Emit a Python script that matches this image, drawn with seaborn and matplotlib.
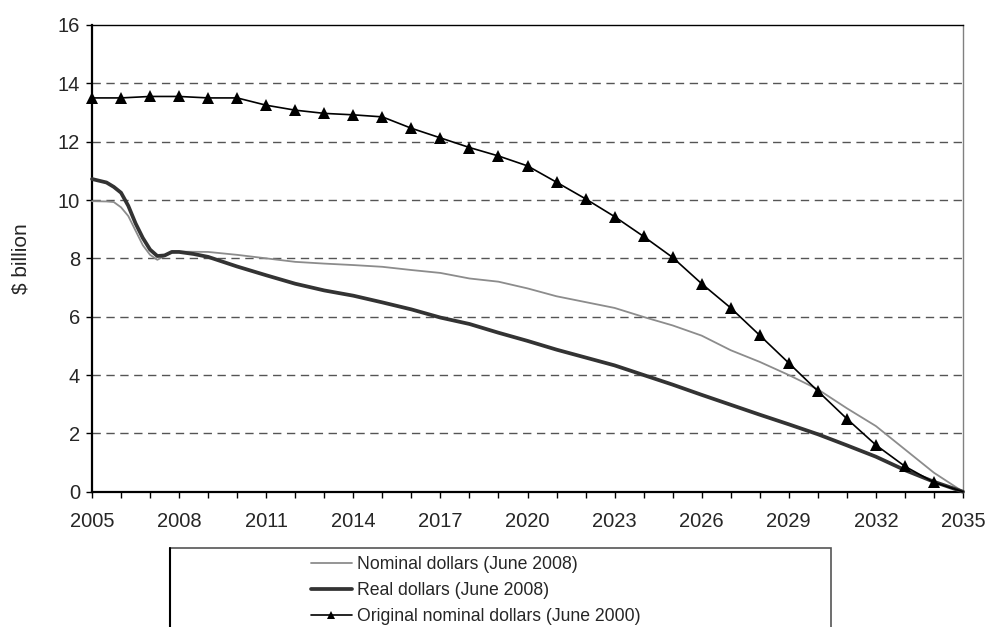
import matplotlib
matplotlib.use("Agg")
import matplotlib.pyplot as plt
from matplotlib.patches import Rectangle
from matplotlib.lines import Line2D
from matplotlib.ticker import MultipleLocator
import pandas as pd
import seaborn as sns

# Nominal dollars (June 2008)
nominal_years = [2005, 2005.5, 2005.75, 2006, 2006.25, 2006.5, 2006.75, 2007, 2007.25,
                 2007.5, 2007.75, 2008, 2009, 2010, 2011, 2012, 2013, 2014, 2015, 2016,
                 2017, 2018, 2019, 2020, 2021, 2022, 2023, 2024, 2025, 2026, 2027, 2028,
                 2029, 2030, 2031, 2032, 2033, 2034, 2035]
nominal_values = [9.96, 9.95, 9.93, 9.75, 9.45, 8.95, 8.45, 8.12, 7.95,
                  8.08, 8.2, 8.23, 8.22, 8.12, 8.0, 7.88, 7.82, 7.77, 7.71, 7.6,
                  7.5, 7.31, 7.2, 6.97, 6.7, 6.5, 6.3, 5.99, 5.7, 5.35, 4.85, 4.45,
                  4.0, 3.51, 2.86, 2.25, 1.45, 0.65, 0.0]

# Real dollars (June 2008)
real_years = [2005, 2005.5, 2005.75, 2006, 2006.25, 2006.5, 2006.75, 2007, 2007.25,
              2007.5, 2007.75, 2008, 2008.5, 2009, 2010, 2011, 2012, 2013, 2014, 2015,
              2016, 2017, 2018, 2019, 2020, 2021, 2022, 2023, 2024, 2025, 2026, 2027,
              2028, 2029, 2030, 2031, 2032, 2033, 2034, 2035]
real_values = [10.72, 10.6, 10.45, 10.25, 9.8, 9.2, 8.7, 8.3, 8.08,
               8.1, 8.22, 8.22, 8.15, 8.05, 7.72, 7.42, 7.13, 6.9, 6.72, 6.49,
               6.25, 5.97, 5.75, 5.45, 5.17, 4.87, 4.6, 4.33, 4.0, 3.67, 3.32, 2.98,
               2.64, 2.31, 1.97, 1.59, 1.2, 0.74, 0.34, 0.0]

# Original nominal dollars (June 2000), one value per year
original_years = list(range(2005, 2036))
original_values = [13.5, 13.5, 13.55, 13.55, 13.5, 13.5, 13.25, 13.08, 12.97, 12.92,
                   12.85, 12.46, 12.13, 11.8, 11.51, 11.17, 10.61, 10.04, 9.43, 8.75,
                   8.03, 7.13, 6.3, 5.36, 4.41, 3.45, 2.5, 1.6, 0.87, 0.32, 0.0]

series_labels = ["Nominal dollars (June 2008)",
                 "Real dollars (June 2008)",
                 "Original nominal dollars (June 2000)"]
year_ticks = list(range(2005, 2036, 3))

sns.set_theme(style="white")
plt.rcParams["font.family"] = ["Liberation Sans", "DejaVu Sans"]

nominal_df = pd.DataFrame({"year": nominal_years, "value": nominal_values})
real_df = pd.DataFrame({"year": real_years, "value": real_values})
original_df = pd.DataFrame({"year": original_years, "value": original_values})

fig = plt.figure(figsize=(9.87, 6.27), dpi=100)
W, H = 987, 627
ax = fig.add_axes([92 / W, 1 - 491.7 / H, (963 - 92) / W, (491.7 - 25) / H])

# dashed horizontal gridlines
for yv in range(2, 16, 2):
    ax.axhline(yv, color="#555555", lw=1.0, ls=(0, (6, 4)), zorder=1)

sns.lineplot(data=nominal_df, x="year", y="value", ax=ax, color="#8c8c8c",
             lw=1.3, zorder=3, estimator=None, sort=False)
sns.lineplot(data=real_df, x="year", y="value", ax=ax, color="#333333",
             lw=2.7, zorder=4, estimator=None, sort=False)
sns.lineplot(data=original_df, x="year", y="value", ax=ax, color="black",
             lw=1.2, zorder=5, estimator=None, sort=False,
             marker="^", markersize=8, markeredgewidth=0,
             markevery=list(range(len(original_years) - 1)))
for ln in ax.lines:
    ln.set_clip_on(False)

ax.set_xlim(2005, 2035)
ax.set_ylim(0, 16)
ax.xaxis.set_minor_locator(MultipleLocator(1))
ax.yaxis.set_major_locator(MultipleLocator(2))
ax.set_xticks(year_ticks)
ax.set_xticklabels([str(y) for y in year_ticks])

ax.tick_params(axis="x", which="both", direction="out", length=4.5, width=1,
               color="black", bottom=True, labelsize=14.5, pad=10)
ax.tick_params(axis="y", which="major", direction="out", length=4.5, width=1,
               color="black", left=True, labelsize=14.5, pad=4)
ax.set_xlabel("")
ax.set_ylabel("$ billion", fontsize=15, labelpad=20)

for side in ("left", "bottom"):
    ax.spines[side].set_color("black")
    ax.spines[side].set_linewidth(1.6)
ax.spines["top"].set_color("black")
ax.spines["top"].set_linewidth(1.0)
ax.spines["right"].set_color("#808080")
ax.spines["right"].set_linewidth(1.0)
ax.grid(False)

# legend frame below the plot
frame = Rectangle((170 / W, -0.05), (831 - 170) / W, 1 - 548 / H + 0.05,
                  transform=fig.transFigure, facecolor="white",
                  edgecolor="#555555", lw=1.2, zorder=0)
fig.patches.append(frame)
fig.add_artist(Line2D([170 / W, 170 / W], [0, 1 - 548 / H], color="black",
                      lw=1.5, transform=fig.transFigure))

handles = [
    Line2D([], [], color="#8c8c8c", lw=1.3),
    Line2D([], [], color="#333333", lw=2.7),
    Line2D([], [], color="black", lw=1.2, marker="^", markersize=5.5,
           markeredgewidth=0),
]
fig.legend(handles, series_labels, loc="upper left",
           bbox_to_anchor=(311 / W, 1 - 556 / H), frameon=False,
           fontsize=12.7, handlelength=2.3, handletextpad=0.3,
           labelspacing=0.52, borderpad=0, borderaxespad=0)

fig.savefig("out.png", dpi=100)
